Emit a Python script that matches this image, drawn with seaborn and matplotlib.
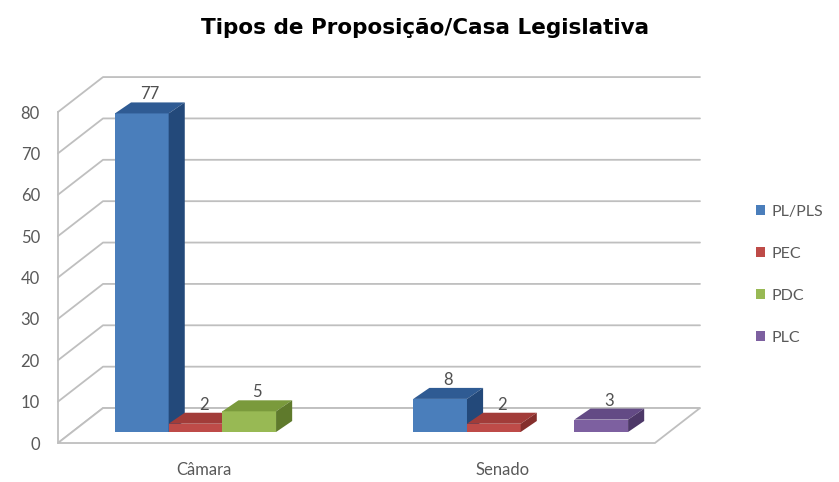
import matplotlib
matplotlib.use("Agg")
import matplotlib.pyplot as plt
from matplotlib.patches import Polygon
from matplotlib.transforms import ScaledTranslation
import seaborn as sns
import pandas as pd

# dados
casas = ["Câmara", "Senado"]
tipos = ["PL/PLS", "PEC", "PDC", "PLC"]
camara = [77, 2, 5, 0]
senado = [8, 2, 0, 3]

cores = ["#4A7EBB", "#BE4B48", "#98B954", "#7D60A0"]
cores_topo = ["#2F5B93", "#A23C39", "#7A9A3C", "#634A85"]
cores_lado = ["#23497A", "#852F2C", "#5F7A2C", "#4D3868"]

df = pd.DataFrame({
    "casa": [c for c in casas for _ in tipos],
    "tipo": tipos * len(casas),
    "n": camara + senado,
})

sns.set_theme(style="white")
plt.rcParams["font.family"] = ["Lato", "DejaVu Sans"]

fig = plt.figure(figsize=(8.39, 4.82), dpi=100)
ax = fig.add_axes([0.0691, 0.0809, 0.7652, 0.6867])

sns.barplot(data=df, x="casa", y="n", hue="tipo", hue_order=tipos,
            palette=cores, width=0.72, saturation=1, linewidth=0, ax=ax)

xl, xr = -0.551, 1.601
ax.set_xlim(xl, xr)
ax.set_ylim(0, 80)

# parede e piso em perspectiva
fx, fy = 0.151, 8.45
grid_col = "#BFBFBF"
for t in range(0, 81, 10):
    ax.plot([xl, xl + fx, xr], [t, t + fy, t + fy], color=grid_col,
            lw=1.3, zorder=0.5, clip_on=False)
piso = Polygon([(xl, 0), (xr - fx, 0), (xr, fy), (xl + fx, fy)], closed=True,
               facecolor="white", edgecolor=grid_col, lw=1.3, zorder=1, clip_on=False)
ax.add_patch(piso)

# barras 3D
sobe = ScaledTranslation(0, 0.11, fig.dpi_scale_trans)
bx, by = 0.054, 2.66
for i, cont in enumerate(ax.containers):
    for bar in cont:
        x0, w, h = bar.get_x(), bar.get_width(), bar.get_height()
        bar.set_transform(ax.transData + sobe)
        bar.set_zorder(3 + i)
        bar.set_clip_on(False)
        if h <= 0:
            continue
        topo = Polygon([(x0, h), (x0 + w, h), (x0 + w + bx, h + by), (x0 + bx, h + by)],
                       facecolor=cores_topo[i], lw=0, transform=ax.transData + sobe,
                       zorder=3 + i, clip_on=False)
        lado = Polygon([(x0 + w, 0), (x0 + w + bx, by), (x0 + w + bx, h + by), (x0 + w, h)],
                       facecolor=cores_lado[i], lw=0, transform=ax.transData + sobe,
                       zorder=3 + i, clip_on=False)
        ax.add_patch(topo)
        ax.add_patch(lado)
        ax.text(x0 + w / 2 + bx / 2, h + by, f"{int(h)}", ha="center", va="bottom",
                fontsize=12, color="#505050", transform=ax.transData + sobe,
                zorder=10, clip_on=False)

# eixos
for s in ["top", "right", "bottom"]:
    ax.spines[s].set_visible(False)
ax.spines["left"].set_color(grid_col)
ax.spines["left"].set_linewidth(1.3)
ax.set_yticks(range(0, 81, 10))
ax.tick_params(axis="y", length=0, pad=13, labelsize=12, labelcolor="#595959")
ax.tick_params(axis="x", length=0, pad=14, labelsize=12, labelcolor="#595959")
desloca = ScaledTranslation(-0.18, 0, fig.dpi_scale_trans)
for lab in ax.get_xticklabels():
    lab.set_transform(lab.get_transform() + desloca)
ax.set_xlabel("")
ax.set_ylabel("")

handles, labels = ax.get_legend_handles_labels()
ax.get_legend().remove()
fig.legend(handles, labels, loc="center left", bbox_to_anchor=(0.893, 0.430),
           frameon=False, fontsize=11.5, labelcolor="#595959", borderaxespad=0,
           handlelength=0.6, handleheight=0.6, handletextpad=0.4, labelspacing=1.75)

fig.text(0.507, 0.942, "Tipos de Proposição/Casa Legislativa", ha="center", va="center",
         fontsize=15.5, fontweight="bold", family=["DejaVu Sans"], color="black")

fig.savefig("out.png", dpi=100)
